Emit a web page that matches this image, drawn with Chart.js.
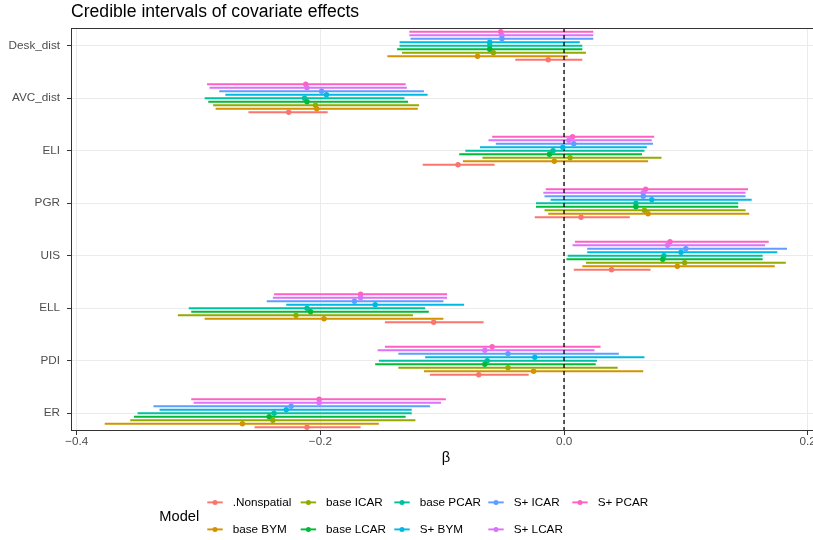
<!DOCTYPE html>
<html><head><meta charset="utf-8">
<script src="https://cdn.jsdelivr.net/npm/chart.js@4"></script>
<style>
html,body{margin:0;padding:0;background:#fff;overflow:hidden;}
#wrap{position:relative;width:813px;height:540px;overflow:hidden;background:#fff;}
canvas{display:block;}
</style></head><body>
<div id="wrap"><canvas id="c" width="830" height="540"></canvas></div>
<script>
// ---------- data ----------
const categories = ['Desk_dist', 'AVC_dist', 'ELI', 'PGR', 'UIS', 'ELL', 'PDI', 'ER'];
const models = ['.Nonspatial', 'base BYM', 'base ICAR', 'base LCAR', 'base PCAR', 'S+ BYM', 'S+ ICAR', 'S+ LCAR', 'S+ PCAR'];
const xTicks = [-0.4, -0.2, 0.0, 0.2];

const nonspatialLo  = [-0.040, -0.259, -0.116, -0.024, 0.008, -0.147, -0.110, -0.254];
const nonspatialMed = [-0.013, -0.226, -0.087,  0.014, 0.039, -0.107, -0.070, -0.211];
const nonspatialHi  = [ 0.015, -0.194, -0.057,  0.054, 0.071, -0.066, -0.029, -0.167];

const baseBymLo  = [-0.145, -0.286, -0.083, -0.013, 0.015, -0.295, -0.115, -0.377];
const baseBymMed = [-0.071, -0.203, -0.008,  0.069, 0.093, -0.197, -0.025, -0.264];
const baseBymHi  = [ 0.003, -0.120,  0.069,  0.152, 0.173, -0.099,  0.065, -0.152];

const baseIcarLo  = [-0.133, -0.288, -0.067, -0.016, 0.018, -0.317, -0.136, -0.356];
const baseIcarMed = [-0.058, -0.204,  0.005,  0.066, 0.099, -0.220, -0.046, -0.239];
const baseIcarHi  = [ 0.018, -0.119,  0.080,  0.149, 0.182, -0.124,  0.044, -0.122];

const baseLcarLo  = [-0.137, -0.292, -0.086, -0.023, 0.002, -0.306, -0.155, -0.353];
const baseLcarMed = [-0.061, -0.211, -0.012,  0.059, 0.081, -0.208, -0.065, -0.242];
const baseLcarHi  = [ 0.015, -0.128,  0.064,  0.143, 0.163, -0.111,  0.026, -0.130];

const basePcarLo  = [-0.135, -0.295, -0.081, -0.023, 0.003, -0.308, -0.152, -0.350];
const basePcarMed = [-0.061, -0.213, -0.009,  0.059, 0.082, -0.211, -0.063, -0.238];
const basePcarHi  = [ 0.015, -0.131,  0.066,  0.143, 0.163, -0.114,  0.027, -0.125];

const splusBymLo  = [-0.135, -0.278, -0.069, -0.011, 0.019, -0.228, -0.114, -0.332];
const splusBymMed = [-0.061, -0.195, -0.001,  0.072, 0.096, -0.155, -0.024, -0.228];
const splusBymHi  = [ 0.013, -0.112,  0.068,  0.154, 0.175, -0.082,  0.066, -0.125];

const splusIcarLo  = [-0.126, -0.283, -0.056, -0.016, 0.019, -0.244, -0.136, -0.337];
const splusIcarMed = [-0.051, -0.199,  0.008,  0.065, 0.100, -0.172, -0.046, -0.224];
const splusIcarHi  = [ 0.024, -0.115,  0.073,  0.149, 0.183, -0.099,  0.045, -0.110];

const splusLcarLo  = [-0.127, -0.291, -0.062, -0.017, 0.007, -0.239, -0.153, -0.304];
const splusLcarMed = [-0.051, -0.211,  0.004,  0.065, 0.085, -0.167, -0.065, -0.201];
const splusLcarHi  = [ 0.024, -0.129,  0.072,  0.149, 0.165, -0.096,  0.025, -0.101];

const splusPcarLo  = [-0.127, -0.293, -0.059, -0.015, 0.009, -0.238, -0.147, -0.306];
const splusPcarMed = [-0.052, -0.212,  0.007,  0.067, 0.087, -0.167, -0.059, -0.201];
const splusPcarHi  = [ 0.024, -0.130,  0.074,  0.151, 0.168, -0.096,  0.030, -0.097];

// ---------- styles ----------
const modelColors = ['#F8766D', '#D39200', '#93AA00', '#00BA38', '#00C19F', '#00B9E3', '#619CFF', '#DB72FB', '#FF61C3'];
const FONT = '"Liberation Sans", Arial, Helvetica, sans-serif';

const lows = [nonspatialLo, baseBymLo, baseIcarLo, baseLcarLo, basePcarLo, splusBymLo, splusIcarLo, splusLcarLo, splusPcarLo];
const meds = [nonspatialMed, baseBymMed, baseIcarMed, baseLcarMed, basePcarMed, splusBymMed, splusIcarMed, splusLcarMed, splusPcarMed];
const highs = [nonspatialHi, baseBymHi, baseIcarHi, baseLcarHi, basePcarHi, splusBymHi, splusIcarHi, splusLcarHi, splusPcarHi];

// first dataset is drawn at the top of each dodge group -> reverse model order
const datasets = models.map((m, k) => ({
  label: m,
  data: categories.map((c, i) => ({ y: i, x: [lows[k][i], highs[k][i]], med: meds[k][i] })),
  backgroundColor: modelColors[k],
  borderWidth: 0,
  inflateAmount: 0,
  categoryPercentage: 0.6,
  barPercentage: 0.58
})).reverse();

const fmt = v => (Math.abs(v) < 1e-9 ? '0.0' : v.toFixed(1).replace('-', '\u2212'));

const panelPlugin = {
  id: 'panel',
  afterDatasetsDraw(chart) {
    const { ctx, chartArea: a, scales: { x } } = chart;
    ctx.save();
    ctx.beginPath();
    ctx.rect(a.left, a.top, a.right - a.left, a.bottom - a.top);
    ctx.clip();
    // reference line at zero
    const x0 = x.getPixelForValue(0);
    ctx.setLineDash([4, 3]);
    ctx.strokeStyle = '#000';
    ctx.lineWidth = 1.3;
    ctx.beginPath();
    ctx.moveTo(x0, a.top);
    ctx.lineTo(x0, a.bottom);
    ctx.stroke();
    ctx.setLineDash([]);
    // median points
    chart.data.datasets.forEach((ds, di) => {
      const meta = chart.getDatasetMeta(di);
      meta.data.forEach((bar, j) => {
        const px = x.getPixelForValue(ds.data[j].med);
        ctx.fillStyle = ds.backgroundColor;
        ctx.beginPath();
        ctx.arc(px, bar.y, 2.7, 0, Math.PI * 2);
        ctx.fill();
      });
    });
    ctx.restore();
    // panel border
    ctx.save();
    ctx.strokeStyle = '#333333';
    ctx.lineWidth = 1;
    ctx.strokeRect(Math.round(a.left) + 0.5, Math.round(a.top) + 0.5, Math.round(a.right - a.left), Math.round(a.bottom - a.top) - 1);
    ctx.restore();
  },
  afterDraw(chart) {
    const ctx = chart.ctx;
    ctx.save();
    ctx.textBaseline = 'middle';
    ctx.textAlign = 'left';
    ctx.fillStyle = '#000';
    ctx.font = '14.67px ' + FONT;
    ctx.fillText('Model', 159.3, 516.6);
    ctx.font = '11.73px ' + FONT;
    const colX = [207.3, 300.7, 394.3, 488.3, 572.3];
    const rowY = [502.4, 529.4];
    models.forEach((m, k) => {
      const c = Math.floor(k / 2), r = k % 2;
      const x = colX[c], y = rowY[r];
      ctx.strokeStyle = modelColors[k];
      ctx.lineWidth = 1.9;
      ctx.beginPath();
      ctx.moveTo(x, y);
      ctx.lineTo(x + 15.4, y);
      ctx.stroke();
      ctx.fillStyle = modelColors[k];
      ctx.beginPath();
      ctx.arc(x + 7.7, y, 2.5, 0, Math.PI * 2);
      ctx.fill();
      ctx.fillStyle = '#000';
      ctx.fillText(m, x + 25.4, y);
    });
    ctx.restore();
  }
};

new Chart(document.getElementById('c'), {
  type: 'bar',
  data: { datasets },
  options: {
    indexAxis: 'y',
    responsive: false,
    animation: false,
    devicePixelRatio: 1,
    layout: { padding: { top: 0, left: 0, right: 9, bottom: 73 } },
    plugins: {
      legend: { display: false },
      tooltip: { enabled: false },
      title: {
        display: true,
        text: 'Credible intervals of covariate effects',
        align: 'start',
        fullSize: false,
        color: '#000',
        font: { family: FONT, size: 17.6, weight: 'normal', lineHeight: 1.2 },
        padding: { top: 1.5, bottom: 5.4 }
      }
    },
    scales: {
      x: {
        type: 'linear',
        min: -0.40468,
        max: 0.21092,
        offset: false,
        afterBuildTicks: s => { s.ticks = xTicks.map(v => ({ value: v })); },
        ticks: { callback: v => fmt(v), color: '#4D4D4D', font: { family: FONT, size: 11.73 }, padding: 0, maxRotation: 0, autoSkip: false },
        grid: { color: '#EBEBEB', lineWidth: 1, tickColor: '#333333', tickLength: 4, tickWidth: 1, offset: false },
        border: { display: false },
        title: { display: true, text: '\u03B2', color: '#000', font: { family: FONT, size: 14.67, lineHeight: 1.2 }, padding: { top: 0, bottom: 0 } },
        afterFit: s => { s.height = 36; }
      },
      y: {
        type: 'linear',
        reverse: true,
        min: -0.338,
        max: 7.338,
        offset: false,
        afterBuildTicks: s => { s.ticks = categories.map((c, i) => ({ value: i })); },
        ticks: { callback: v => categories[v], color: '#4D4D4D', font: { family: FONT, size: 11.73 }, padding: 7, autoSkip: false },
        grid: { color: '#EBEBEB', lineWidth: 1, tickColor: '#333333', tickLength: 4, tickWidth: 1, offset: false },
        border: { display: false },
        afterFit: s => { s.width = 71; }
      }
    }
  },
  plugins: [panelPlugin]
});
</script>
</body></html>
